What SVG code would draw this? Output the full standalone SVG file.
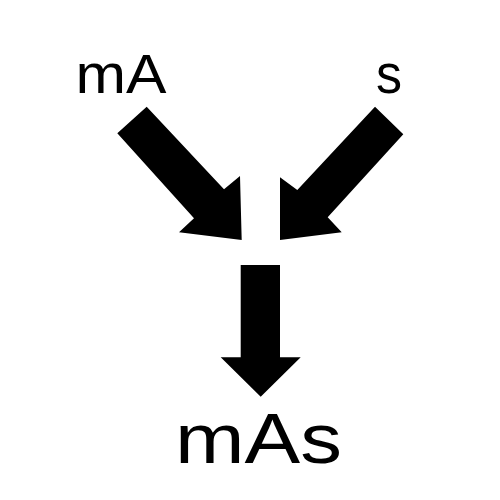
<svg xmlns="http://www.w3.org/2000/svg" width="500" height="500" viewBox="0 0 500 500">
<style>
.arrow{fill:#000;stroke:none}
.lbl{font-family:"Liberation Sans",Arial,sans-serif;fill:#000}
</style>
<rect width="500" height="500" fill="#fff"/>
<g id="connectors">
<polygon class="arrow" points="117.3,133.3 146.7,106.7 224,189.3 240,176 241.7,240 179,232.3 194,218.3"/>
<polygon class="arrow" points="403.3,134.3 375,106.7 297.3,190 280,177.3 280,240 341.7,232.3 327.7,217.3"/>
<polygon class="arrow" points="240.7,265 280,265 280,357.3 300.7,357.3 260.7,396.7 220.7,357.3 240.7,357.3"/>
</g>
<g id="node-mA"><text class="lbl" x="75.5" y="92.5" font-size="56" textLength="91" lengthAdjust="spacingAndGlyphs">mA</text></g>
<g id="node-s"><text class="lbl" x="376" y="92.5" font-size="56" textLength="26" lengthAdjust="spacingAndGlyphs">s</text></g>
<g id="node-mAs"><text class="lbl" x="175" y="463.3" font-size="70" textLength="167" lengthAdjust="spacingAndGlyphs">mAs</text></g>
</svg>
